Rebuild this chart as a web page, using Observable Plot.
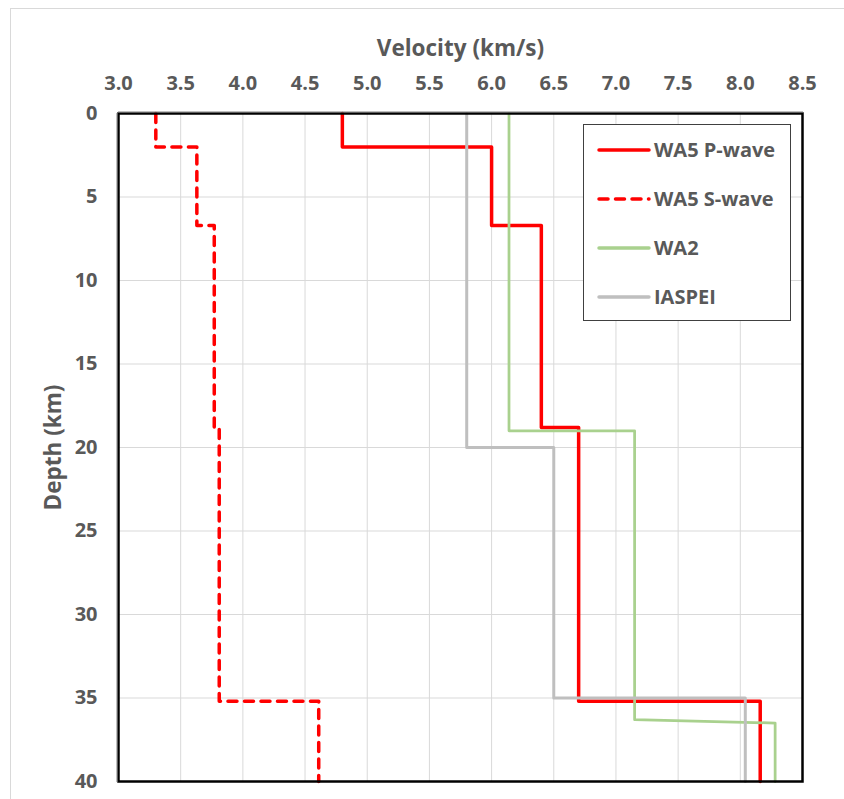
<!DOCTYPE html>
<html>
<head>
<meta charset="utf-8">
<script src="https://cdn.jsdelivr.net/npm/d3@7"></script>
<script src="https://cdn.jsdelivr.net/npm/@observablehq/plot@0.6"></script>
<style>
  html, body { margin: 0; padding: 0; background: #fff; overflow: hidden; }
  #wrap { position: relative; width: 844px; height: 799px; overflow: hidden; font-family: "Open Sans", sans-serif; }
  #border { position: absolute; left: 10px; top: 8px; width: 1000px; height: 1000px; border: 1px solid #d9d9d9; box-sizing: border-box; }
  #chart { position: absolute; left: 0; top: 0; }
  #legend { position: absolute; left: 583px; top: 124px; width: 208px; height: 197px; box-sizing: border-box;
            border: 1px solid #404040; background: #fff; }
</style>
</head>
<body>
<div id="wrap">
  <div id="border"></div>
  <div id="chart"></div>
  <div id="legend"></div>
</div>
<script>
// ---- Data ----
const xTicks = [3.0, 3.5, 4.0, 4.5, 5.0, 5.5, 6.0, 6.5, 7.0, 7.5, 8.0, 8.5];
const yTicks = [0, 5, 10, 15, 20, 25, 30, 35, 40];

const seriesNames = ["WA5 P-wave", "WA5 S-wave", "WA2", "IASPEI"];
const seriesColors = ["#ff0000", "#ff0000", "#a9d18e", "#bfbfbf"];

// WA5 P-wave velocity profile (km/s vs depth km)
const pWaveVelocity = [4.8, 4.8, 6.0, 6.0, 6.4, 6.4, 6.7, 6.7, 8.16, 8.16];
const pWaveDepth    = [0,   2,   2,   6.7, 6.7, 18.8, 18.8, 35.2, 35.2, 40];

// WA5 S-wave
const sWaveVelocity = [3.3, 3.3, 3.63, 3.63, 3.77, 3.77, 3.81, 3.81, 4.61, 4.61];
const sWaveDepth    = [0,   2,   2,    6.7,  6.7,  18.8, 18.8, 35.2, 35.2, 40];

// WA2
const wa2Velocity = [6.14, 6.14, 7.15, 7.15, 8.28, 8.28];
const wa2Depth    = [0,    19,   19,   36.3, 36.5, 40];

// IASPEI
const iaspeiVelocity = [5.8, 5.8, 6.5, 6.5, 8.04, 8.04];
const iaspeiDepth    = [0,   20,  20,  35,  35,   40];

const toRows = (vel, dep) => vel.map((v, i) => ({velocity: v, depth: dep[i]}));
const pRows = toRows(pWaveVelocity, pWaveDepth);
const sRows = toRows(sWaveVelocity, sWaveDepth);
const wa2Rows = toRows(wa2Velocity, wa2Depth);
const iaspeiRows = toRows(iaspeiVelocity, iaspeiDepth);

const sDash = "9,7.5";
const font = "'Open Sans', sans-serif";
const textColor = "#595959";

const chart = Plot.plot({
  width: 844,
  height: 799,
  marginTop: 113,
  marginLeft: 118,
  marginRight: 42,
  marginBottom: 18,
  style: {fontFamily: font, fontSize: "20px", fontWeight: 700, color: textColor, background: "transparent", overflow: "visible"},
  x: {domain: [3, 8.5], axis: null},
  y: {domain: [0, 40], reverse: true, axis: null},
  marks: [
    Plot.gridX(xTicks, {stroke: "#d9d9d9", strokeOpacity: 1, strokeWidth: 1}),
    Plot.gridY(yTicks, {stroke: "#d9d9d9", strokeOpacity: 1, strokeWidth: 1}),
    Plot.line(pRows, {x: "velocity", y: "depth", stroke: seriesColors[0], strokeWidth: 3.5}),
    Plot.line(sRows, {x: "velocity", y: "depth", stroke: seriesColors[1], strokeWidth: 3.5, strokeDasharray: sDash}),
    Plot.line(wa2Rows, {x: "velocity", y: "depth", stroke: seriesColors[2], strokeWidth: 2.75}),
    Plot.line(iaspeiRows, {x: "velocity", y: "depth", stroke: seriesColors[3], strokeWidth: 3}),
    Plot.frame({stroke: "#000", strokeWidth: 2.5}),
    Plot.frame({anchor: "top", stroke: "#7f7f7f", strokeWidth: 1, dy: -1.5}),
    Plot.frame({anchor: "left", stroke: "#7f7f7f", strokeWidth: 1, dx: -1.5}),
    Plot.axisX({anchor: "top", ticks: xTicks, tickSize: 0, tickPadding: 24, tickFormat: d => d.toFixed(1),
                label: null, fill: textColor, fontSize: 20, fontWeight: 700}),
    Plot.axisY({anchor: "left", ticks: yTicks, tickSize: 0, tickPadding: 21, tickFormat: d => String(d),
                label: null, fill: textColor, fontSize: 20, fontWeight: 700}),
    Plot.text(["Velocity (km/s)"], {frameAnchor: "top", dy: -58, lineAnchor: "bottom", text: d => d, fill: textColor, fontSize: 22.5, fontWeight: 700}),
    Plot.text(["Depth (km)"], {frameAnchor: "left", dx: -65, rotate: -90, textAnchor: "middle", lineAnchor: "middle", text: d => d, fill: textColor, fontSize: 22.5, fontWeight: 700})
  ]
});
document.getElementById("chart").appendChild(chart);

// ---- Legend (inside the plot area, top right) ----
const legend = d3.select("#legend").append("svg").attr("width", 206).attr("height", 195)
  .style("display", "block");
const rowY = [25, 74, 123, 172];
const dashes = [null, "9,7.5", null, null];
seriesNames.forEach((name, i) => {
  const g = legend.append("g").attr("transform", `translate(0,${rowY[i]})`);
  g.append("line").attr("x1", 15).attr("x2", 65).attr("y1", 0).attr("y2", 0)
    .attr("stroke", seriesColors[i]).attr("stroke-width", 3.5)
    .attr("stroke-linecap", "round")
    .attr("stroke-dasharray", dashes[i]);
  g.append("text").attr("x", 70).attr("y", 0).attr("dy", "0.36em")
    .attr("fill", textColor).attr("font-family", font)
    .attr("font-size", 20).attr("font-weight", 700).text(name);
});
</script>
</body>
</html>
